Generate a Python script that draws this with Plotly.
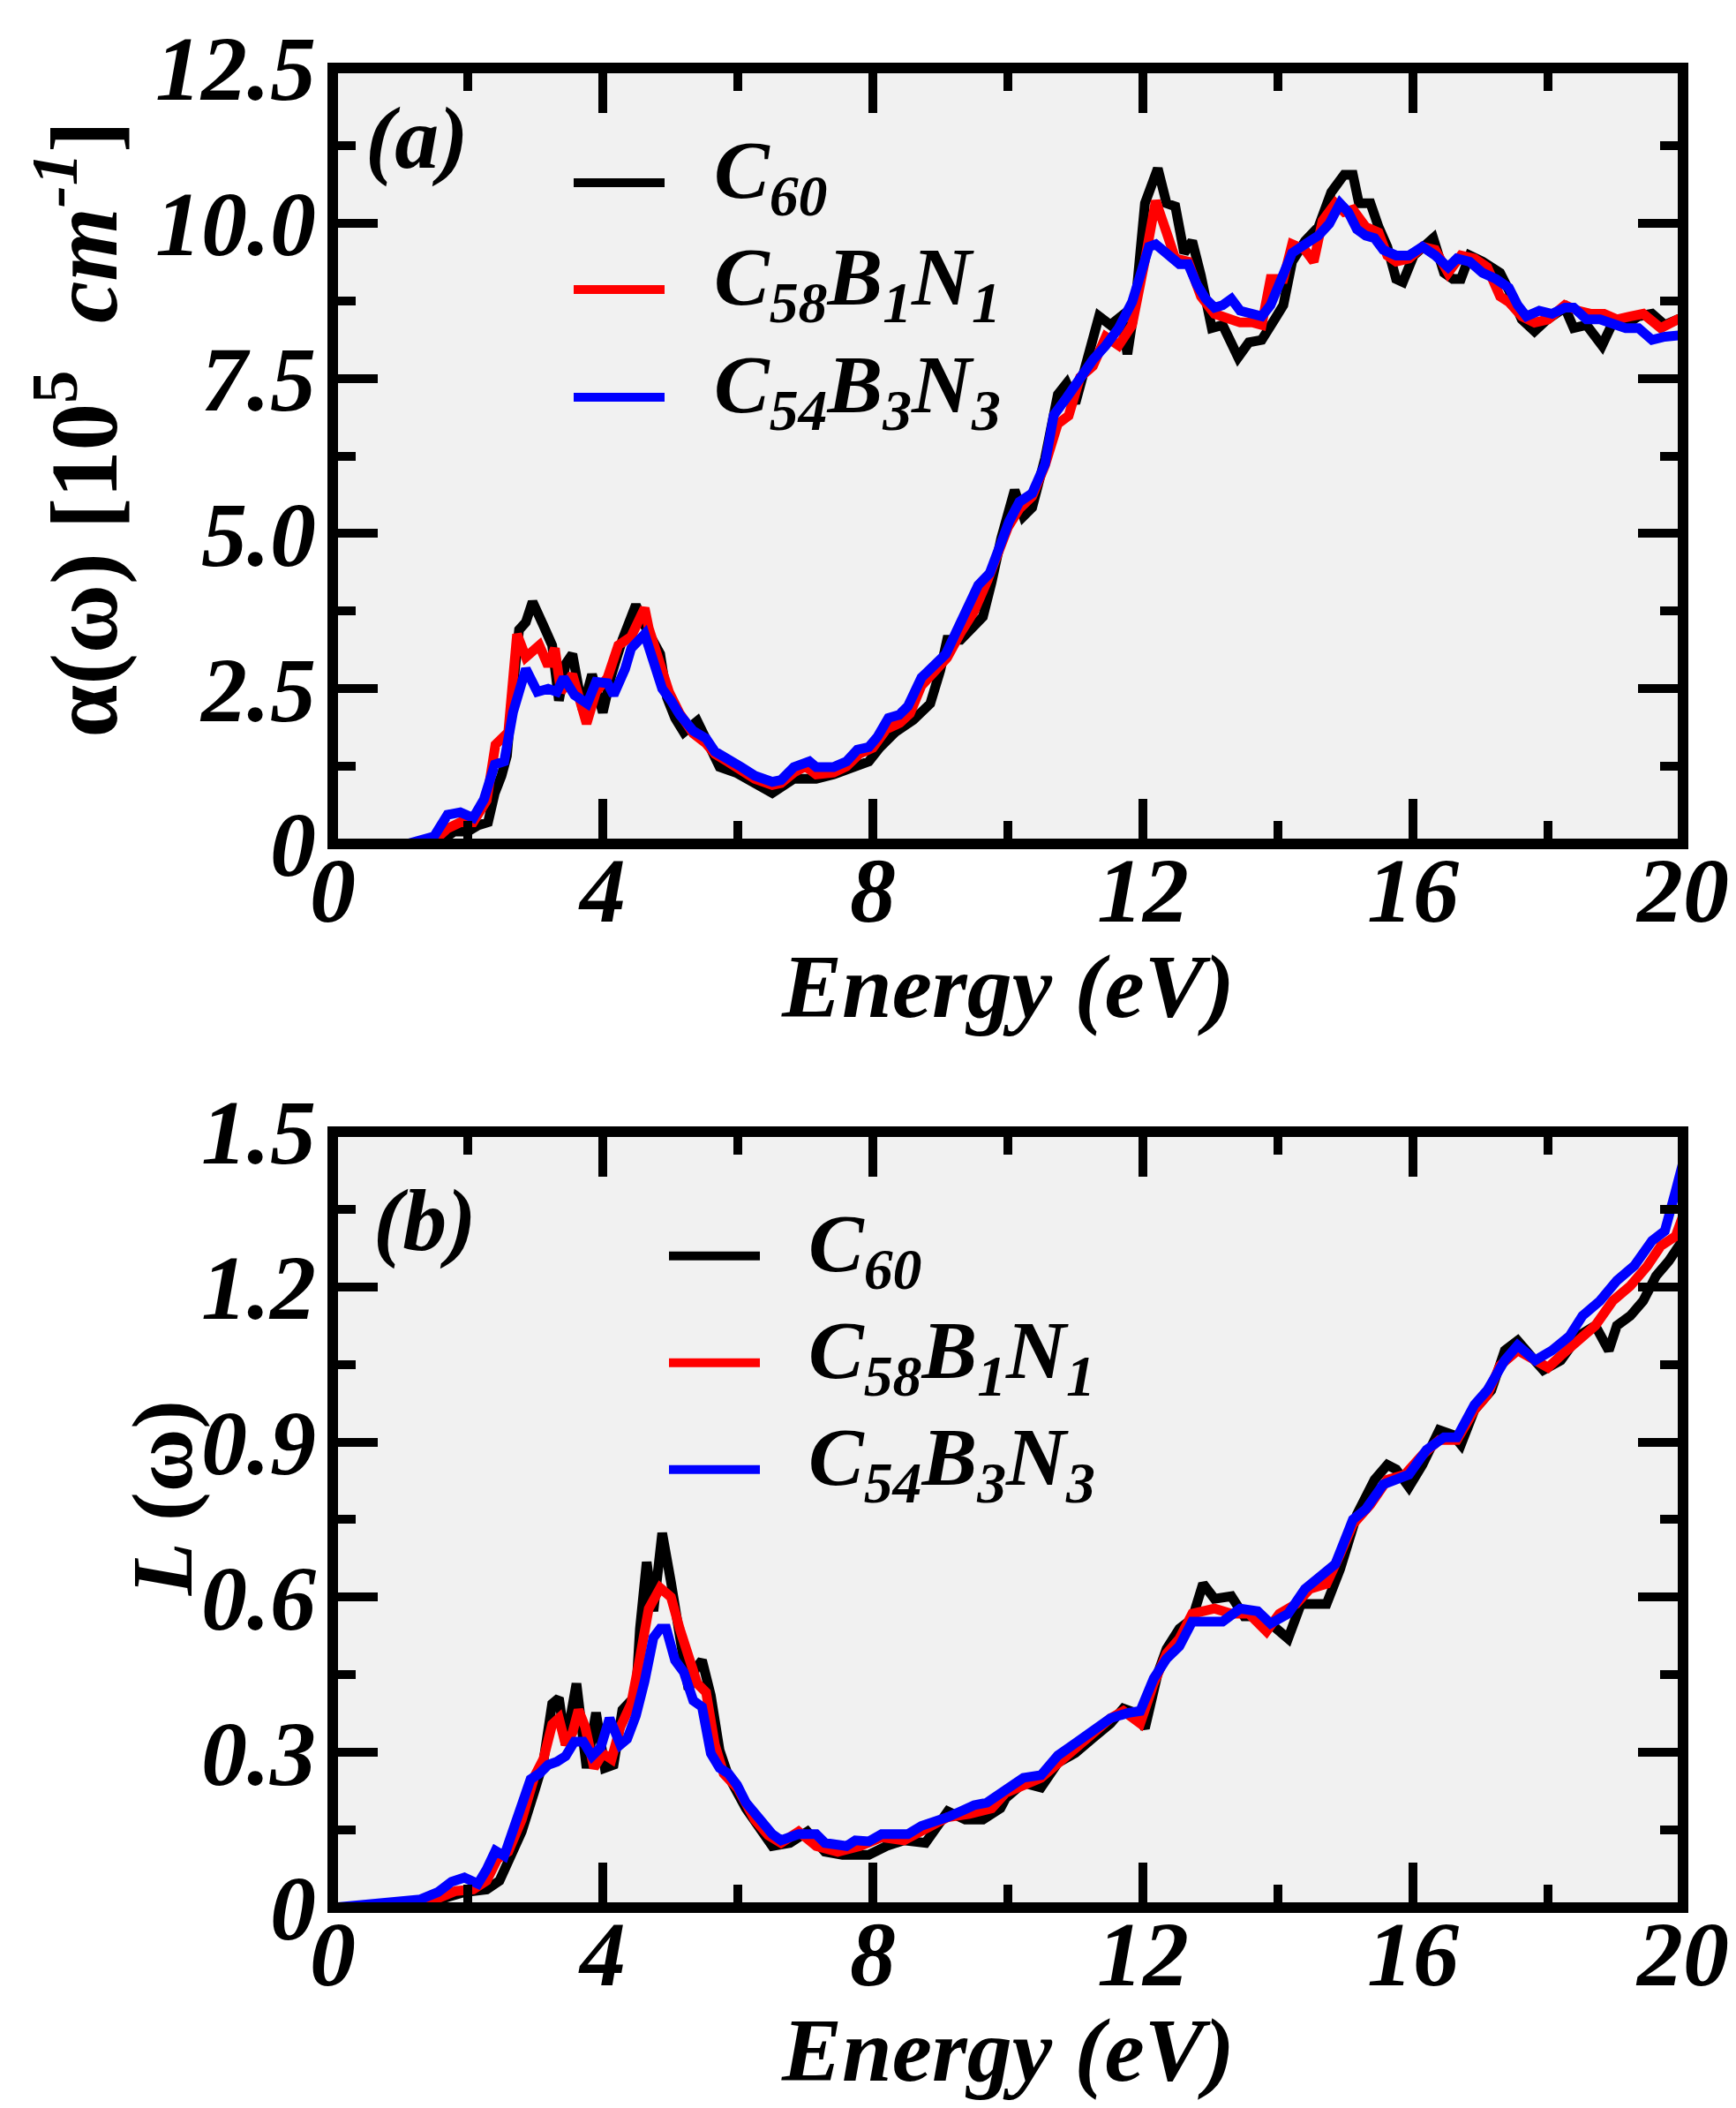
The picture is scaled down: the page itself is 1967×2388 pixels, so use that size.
import plotly.graph_objects as go

# ---------------- data ----------------
energy_ticks = [0, 4, 8, 12, 16, 20]
alpha_ticks = [0, 2.5, 5.0, 7.5, 10.0, 12.5]
alpha_ticktext = ["0", "2.5", "5.0", "7.5", "10.0", "12.5"]
loss_ticks = [0, 0.3, 0.6, 0.9, 1.2, 1.5]
loss_ticktext = ["0", "0.3", "0.6", "0.9", "1.2", "1.5"]

series_names = ["C<sub>60</sub>", "C<sub>58</sub>B<sub>1</sub>N<sub>1</sub>", "C<sub>54</sub>B<sub>3</sub>N<sub>3</sub>"]
series_colors = ["#000000", "#ff0000", "#0000ff"]

alpha_c60 = [(0,0),(1.3,0),(1.6,0.05),(1.8,0.2),(2.0,0.2),(2.15,0.3),(2.3,0.35),(2.4,0.82),(2.5,1.1),(2.58,1.42),
             (2.65,2.3),(2.76,3.45),(2.86,3.57),(2.96,3.90),(3.12,3.52),(3.25,3.2),(3.35,2.31),(3.45,2.9),(3.55,3.06),
             (3.7,2.17),(3.84,2.73),(4.0,2.12),(4.13,2.73),(4.29,3.29),(4.49,3.85),(4.62,3.52),(4.85,3.06),(4.95,2.36),
             (5.07,2.03),(5.2,1.8),(5.4,1.98),(5.53,1.70),(5.73,1.24),(5.99,1.14),(6.2,1.0),(6.51,0.82),(6.83,1.05),
             (7.16,1.05),(7.42,1.12),(7.68,1.24),(7.94,1.33),(8.1,1.55),(8.33,1.80),(8.6,2.0),(8.85,2.26),(9.0,2.8),
             (9.1,3.29),(9.3,3.29),(9.5,3.5),(9.63,3.66),(9.76,4.22),(9.9,4.92),(10.1,5.7),(10.23,5.28),(10.36,5.42),
             (10.55,6.21),(10.74,7.24),(10.87,7.42),(11.0,7.1),(11.2,7.98),(11.35,8.5),(11.52,8.36),(11.68,8.50),
             (11.77,7.89),(11.9,8.82),(12.03,10.32),(12.22,10.88),(12.35,10.32),(12.48,10.27),(12.61,9.52),(12.73,9.71),
             (12.86,9.15),(13.02,8.31),(13.18,8.36),(13.41,7.84),(13.57,8.08),(13.76,8.12),(13.95,8.45),(14.08,8.68),
             (14.21,9.38),(14.4,9.71),(14.6,9.94),(14.79,10.50),(14.98,10.78),(15.11,10.78),(15.2,10.32),(15.37,10.32),
             (15.49,9.94),(15.62,9.62),(15.75,9.10),(15.85,9.05),(16.01,9.48),(16.2,9.66),(16.3,9.76),(16.46,9.20),
             (16.59,9.10),(16.71,9.10),(16.84,9.48),(17.03,9.38),(17.29,9.20),(17.42,8.92),(17.61,8.45),(17.8,8.26),
             (17.99,8.45),(18.25,8.64),(18.38,8.31),(18.57,8.36),(18.8,8.03),(18.96,8.40),(19.15,8.36),(19.34,8.50),
             (19.54,8.54),(19.73,8.36),(19.92,8.45),(20.0,8.4)]

alpha_c58 = [(0,0),(1.2,0),(1.5,0.05),(1.7,0.25),(1.89,0.35),(2.08,0.35),(2.28,0.7),(2.41,1.6),(2.6,1.8),(2.73,3.38),
             (2.86,3.01),(3.06,3.2),(3.19,2.87),(3.29,3.15),(3.38,2.45),(3.55,2.73),(3.76,1.94),(3.9,2.45),(4.07,2.68),
             (4.23,3.2),(4.42,3.34),(4.62,3.80),(4.68,3.48),(4.81,3.06),(4.98,2.45),(5.14,2.1),(5.34,1.78),(5.53,1.62),
             (5.66,1.45),(5.86,1.32),(6.05,1.2),(6.25,1.05),(6.51,0.95),(6.64,0.98),(6.83,1.15),(7.0,1.25),(7.16,1.12),
             (7.42,1.15),(7.61,1.25),(7.8,1.45),(8.0,1.55),(8.2,1.85),(8.4,1.95),(8.55,2.1),(8.72,2.55),(8.91,2.75),
             (9.1,3.0),(9.3,3.4),(9.5,3.75),(9.7,4.25),(9.86,4.7),(10.0,5.1),(10.17,5.4),(10.36,5.6),(10.55,6.1),
             (10.74,6.77),(10.9,6.9),(11.07,7.52),(11.26,7.7),(11.45,8.17),(11.64,8.03),(11.84,8.36),(12.03,9.4),
             (12.19,10.36),(12.35,9.85),(12.48,9.43),(12.67,9.38),(12.86,8.82),(13.06,8.54),(13.25,8.45),(13.44,8.40),
             (13.63,8.40),(13.76,8.36),(13.89,9.1),(14.08,9.1),(14.21,9.66),(14.4,9.57),(14.53,9.38),(14.66,10.04),
             (14.85,10.32),(14.98,10.18),(15.11,10.22),(15.3,9.94),(15.49,9.85),(15.62,9.48),(15.75,9.38),(15.94,9.43),
             (16.14,9.62),(16.33,9.57),(16.52,9.20),(16.71,9.48),(16.91,9.43),(17.1,9.29),(17.29,8.82),(17.42,8.73),
             (17.61,8.50),(17.8,8.40),(18.0,8.45),(18.25,8.68),(18.45,8.59),(18.64,8.54),(18.83,8.54),(19.02,8.45),
             (19.22,8.50),(19.41,8.54),(19.67,8.31),(19.92,8.45),(20.0,8.45)]

alpha_c54 = [(0,0),(1.1,0),(1.5,0.12),(1.7,0.47),(1.89,0.51),(2.08,0.42),(2.24,0.72),(2.4,1.28),(2.54,1.33),(2.67,2.12),
             (2.86,2.82),(3.03,2.45),(3.19,2.50),(3.32,2.45),(3.42,2.68),(3.58,2.40),(3.77,2.26),(3.9,2.61),(4.07,2.59),
             (4.16,2.40),(4.33,2.82),(4.42,3.15),(4.62,3.38),(4.75,2.96),(4.88,2.50),(5.01,2.31),(5.14,2.08),(5.34,1.82),
             (5.53,1.70),(5.66,1.49),(5.86,1.38),(6.05,1.24),(6.25,1.10),(6.51,1.00),(6.64,1.03),(6.83,1.24),(7.06,1.33),
             (7.16,1.24),(7.42,1.24),(7.61,1.33),(7.77,1.52),(7.94,1.56),(8.07,1.73),(8.23,2.03),(8.39,2.08),(8.52,2.22),
             (8.72,2.68),(8.91,2.87),(9.08,3.06),(9.24,3.43),(9.4,3.80),(9.56,4.17),(9.73,4.36),(9.86,4.78),(10.02,5.20),
             (10.17,5.51),(10.36,5.65),(10.55,6.12),(10.68,6.91),(10.87,7.19),(11.07,7.52),(11.26,7.80),(11.45,8.03),
             (11.64,8.31),(11.84,8.73),(11.96,9.20),(12.09,9.62),(12.19,9.66),(12.29,9.57),(12.41,9.48),(12.54,9.34),
             (12.67,9.34),(12.8,9.01),(12.93,8.78),(13.06,8.64),(13.18,8.68),(13.31,8.78),(13.44,8.59),(13.57,8.54),
             (13.76,8.50),(13.89,8.68),(14.02,9.01),(14.21,9.52),(14.4,9.66),(14.6,9.80),(14.76,9.99),(14.92,10.32),
             (15.04,10.18),(15.17,9.90),(15.3,9.80),(15.43,9.76),(15.56,9.57),(15.75,9.48),(15.94,9.48),(16.14,9.62),
             (16.33,9.48),(16.52,9.29),(16.65,9.43),(16.84,9.38),(17.03,9.20),(17.23,9.10),(17.42,8.96),(17.55,8.68),
             (17.68,8.50),(17.87,8.59),(18.06,8.54),(18.25,8.64),(18.38,8.64),(18.57,8.45),(18.77,8.45),(18.96,8.40),
             (19.15,8.31),(19.34,8.31),(19.54,8.12),(19.73,8.17),(19.92,8.19),(20.0,8.2)]

loss_c60 = [(0,0),(1.3,0.005),(1.95,0.03),(2.28,0.035),(2.47,0.052),(2.6,0.086),(2.8,0.147),(2.99,0.226),(3.12,0.282),
            (3.25,0.394),(3.35,0.405),(3.45,0.315),(3.61,0.433),(3.76,0.27),(3.9,0.377),(4.03,0.27),(4.16,0.276),
            (4.29,0.382),(4.49,0.41),(4.55,0.539),(4.65,0.668),(4.75,0.573),(4.88,0.724),(5.01,0.629),(5.14,0.522),
            (5.27,0.422),(5.37,0.461),(5.47,0.478),(5.6,0.41),(5.73,0.304),(5.86,0.254),(6.12,0.192),(6.51,0.119),
            (6.77,0.125),(7.03,0.147),(7.29,0.108),(7.55,0.102),(7.94,0.102),(8.2,0.119),(8.46,0.130),(8.78,0.125),
            (9.11,0.186),(9.37,0.17),(9.63,0.17),(9.89,0.192),(9.97,0.212),(10.23,0.241),(10.49,0.232),(10.74,0.28),
            (11.0,0.299),(11.26,0.328),(11.52,0.356),(11.71,0.385),(11.9,0.376),(12.03,0.347),(12.22,0.453),(12.35,0.50),
            (12.54,0.539),(12.73,0.558),(12.89,0.626),(13.06,0.597),(13.31,0.602),(13.5,0.563),(13.7,0.563),(13.89,0.549),
            (14.15,0.52),(14.34,0.587),(14.53,0.587),(14.72,0.587),(14.92,0.654),(15.17,0.76),(15.43,0.827),(15.62,0.856),
            (15.75,0.847),(15.94,0.813),(16.14,0.856),(16.39,0.923),(16.59,0.914),(16.71,0.895),(16.91,0.962),(17.16,1.0),
            (17.36,1.077),(17.55,1.096),(17.8,1.058),(17.93,1.039),(18.19,1.058),(18.45,1.105),(18.7,1.125),(18.9,1.077),
            (19.02,1.125),(19.22,1.144),(19.41,1.173),(19.6,1.221),(19.79,1.25),(19.99,1.289)]

loss_c58 = [(0,0),(1.0,0.005),(1.56,0.018),(1.82,0.032),(2.08,0.035),(2.28,0.052),(2.44,0.094),(2.6,0.108),(2.8,0.17),
            (2.99,0.254),(3.12,0.287),(3.25,0.354),(3.35,0.366),(3.45,0.315),(3.55,0.338),(3.64,0.382),(3.74,0.349),
            (3.87,0.27),(4.0,0.298),(4.13,0.287),(4.26,0.349),(4.42,0.394),(4.55,0.483),(4.68,0.578),(4.85,0.618),
            (5.01,0.60),(5.14,0.539),(5.27,0.489),(5.40,0.433),(5.53,0.416),(5.66,0.315),(5.79,0.259),(6.0,0.23),
            (6.25,0.17),(6.45,0.14),(6.64,0.125),(6.9,0.147),(7.16,0.119),(7.48,0.108),(7.81,0.119),(8.13,0.136),
            (8.46,0.130),(8.78,0.153),(9.11,0.175),(9.43,0.181),(9.76,0.192),(9.97,0.222),(10.49,0.251),(11.0,0.308),
            (11.26,0.337),(11.52,0.366),(11.71,0.38),(11.96,0.356),(12.16,0.433),(12.35,0.491),(12.54,0.52),(12.73,0.568),
            (13.06,0.578),(13.31,0.568),(13.57,0.568),(13.83,0.534),(14.02,0.568),(14.27,0.587),(14.47,0.616),(14.72,0.626),
            (14.92,0.683),(15.11,0.741),(15.37,0.779),(15.62,0.827),(15.88,0.837),(16.14,0.875),(16.39,0.904),(16.65,0.904),
            (16.91,0.962),(17.1,0.991),(17.29,1.048),(17.55,1.077),(17.81,1.058),(18.0,1.044),(18.19,1.067),(18.45,1.096),
            (18.7,1.125),(18.96,1.173),(19.22,1.202),(19.47,1.24),(19.67,1.279),(19.89,1.298),(20.0,1.337)]

loss_c54 = [(0,0),(0.78,0.01),(1.3,0.016),(1.56,0.03),(1.76,0.05),(1.95,0.058),(2.15,0.046),(2.28,0.074),(2.41,0.11),
            (2.54,0.10),(2.67,0.147),(2.8,0.198),(2.93,0.248),(3.06,0.259),(3.19,0.276),(3.32,0.282),(3.45,0.293),
            (3.58,0.321),(3.71,0.321),(3.84,0.293),(3.97,0.31),(4.1,0.366),(4.26,0.315),(4.36,0.326),(4.49,0.371),
            (4.62,0.438),(4.75,0.522),(4.85,0.539),(4.94,0.539),(5.07,0.478),(5.2,0.455),(5.34,0.40),(5.47,0.388),
            (5.6,0.298),(5.73,0.27),(5.86,0.259),(5.99,0.237),(6.12,0.203),(6.25,0.181),(6.38,0.158),(6.51,0.142),
            (6.64,0.130),(6.77,0.136),(6.9,0.142),(7.03,0.142),(7.16,0.142),(7.29,0.125),(7.48,0.122),(7.61,0.119),
            (7.74,0.130),(7.94,0.128),(8.13,0.142),(8.33,0.142),(8.52,0.142),(8.72,0.158),(8.91,0.164),(9.11,0.175),
            (9.3,0.186),(9.5,0.198),(9.69,0.203),(9.82,0.214),(10.02,0.231),(10.23,0.251),(10.49,0.256),(10.74,0.294),
            (11.0,0.318),(11.26,0.342),(11.52,0.366),(11.77,0.376),(11.96,0.38),(12.16,0.443),(12.35,0.481),(12.54,0.505),
            (12.73,0.553),(12.93,0.553),(13.18,0.553),(13.44,0.578),(13.7,0.573),(13.89,0.549),(14.15,0.568),(14.4,0.616),
            (14.66,0.645),(14.85,0.664),(15.11,0.75),(15.3,0.77),(15.56,0.818),(15.75,0.827),(15.94,0.837),(16.2,0.885),
            (16.46,0.909),(16.65,0.909),(16.91,0.972),(17.1,1.0),(17.36,1.058),(17.55,1.087),(17.81,1.058),(18.06,1.077),
            (18.32,1.105),(18.51,1.144),(18.77,1.173),(19.02,1.212),(19.28,1.241),(19.54,1.289),(19.73,1.308),
            (19.89,1.385),(20.0,1.44)]

# ---------------- layout geometry (screen pixels of the 1967x2388 window) ----------------
W, H = 1967, 2388
OFF = 8  # default margin of the html body
L_PX, R_PX, T_PX, B_PX = 377, 1907, 44, 2161   # frame-line centres
PW, PH = R_PX - L_PX, B_PX - T_PX


def px(x):
    return (x - L_PX) / PW


def py(y):
    return 1 - (y - T_PX) / PH


top_dom = [py(937), 1.0]
bot_dom = [0.0, py(1268)]

FONT = "Liberation Serif, Times New Roman, Times, serif"
tickfont = dict(family=FONT, size=104, color="black", weight="bold", style="italic")

fig = go.Figure()
for data, name, col in zip([alpha_c60, alpha_c58, alpha_c54], series_names, series_colors):
    fig.add_trace(go.Scatter(x=[p[0] for p in data], y=[p[1] for p in data], mode="lines", name=name,
                             line=dict(color=col, width=11), xaxis="x", yaxis="y", showlegend=False))
for data, name, col in zip([loss_c60, loss_c58, loss_c54], series_names, series_colors):
    fig.add_trace(go.Scatter(x=[p[0] for p in data], y=[p[1] for p in data], mode="lines", name=name,
                             line=dict(color=col, width=11), xaxis="x2", yaxis="y2", showlegend=False))

common_axis = dict(showline=False, mirror="allticks", ticks="inside",
                   ticklen=51, tickwidth=10, tickcolor="black", showgrid=False, zeroline=False,
                   tickfont=tickfont)

xax = dict(common_axis, range=[0, 20], tickmode="array", tickvals=energy_ticks,
           ticktext=[str(v) for v in energy_ticks], ticklabelstandoff=-17,
           minor=dict(tickmode="array", tickvals=[2, 6, 10, 14, 18], ticklen=26, tickwidth=10,
                      tickcolor="black", ticks="inside", showgrid=False))

fig.update_layout(
    width=W, height=H,
    margin=dict(l=L_PX - OFF, r=W - (R_PX - OFF), t=T_PX - OFF, b=H - (B_PX - OFF)),
    paper_bgcolor="white", plot_bgcolor="#f1f1f1",
    showlegend=False,
    xaxis=dict(xax, domain=[0, 1], anchor="y"),
    yaxis=dict(common_axis, domain=top_dom, anchor="x", range=[0, 12.5], tickmode="array",
               tickvals=alpha_ticks, ticktext=alpha_ticktext, ticklabelstandoff=18,
               minor=dict(tickmode="array", tickvals=[1.25, 3.75, 6.25, 8.75, 11.25], ticklen=26,
                          tickwidth=10, tickcolor="black", ticks="inside", showgrid=False)),
    xaxis2=dict(xax, domain=[0, 1], anchor="y2"),
    yaxis2=dict(common_axis, domain=bot_dom, anchor="x2", range=[0, 1.5], tickmode="array",
                tickvals=loss_ticks, ticktext=loss_ticktext, ticklabelstandoff=18,
                minor=dict(tickmode="array", tickvals=[0.15, 0.45, 0.75, 1.05, 1.35], ticklen=26,
                           tickwidth=10, tickcolor="black", ticks="inside", showgrid=False)),
)

ann = []
shapes = []
bold_it = dict(family=FONT, color="black", weight="bold", style="italic")

# frames (centred on the panel edges, drawn above the curves)
for dom in (top_dom, bot_dom):
    shapes.append(dict(type="rect", xref="paper", yref="paper", x0=0, x1=1, y0=dom[0], y1=dom[1],
                       line=dict(color="black", width=12), layer="above"))

# axis titles
ann.append(dict(text="Energy (eV)", x=0.5, y=py(1101), xref="paper", yref="paper", showarrow=False,
                xanchor="center", yanchor="middle", font=dict(bold_it, size=102)))
ann.append(dict(text="Energy (eV)", x=0.5, y=py(1101 + 1224), xref="paper", yref="paper", showarrow=False,
                xanchor="center", yanchor="middle", font=dict(bold_it, size=102)))
ann.append(dict(text="α(ω) [10<sup>5</sup>  <i>cm<sup>-1</sup></i>]", x=px(88), y=py(460), xref="paper",
                yref="paper", showarrow=False, textangle=-90, xanchor="center", yanchor="middle",
                font=dict(family=FONT, color="black", weight="bold", size=107)))
ann.append(dict(text="<i>L</i> (ω)", x=px(184), y=py(1690), xref="paper", yref="paper", showarrow=False,
                textangle=-90, xanchor="center", yanchor="middle",
                font=dict(family=FONT, color="black", weight="bold", size=98)))
ann.append(dict(text="(a)", x=px(472), y=py(125), xref="paper", yref="paper", showarrow=False,
                xanchor="center", yanchor="middle", font=dict(bold_it, size=100)))
ann.append(dict(text="(b)", x=px(481), y=py(1370), xref="paper", yref="paper", showarrow=False,
                xanchor="center", yanchor="middle", font=dict(bold_it, size=100)))

# legends drawn by hand (long line keys as in the original)
legend_rows = [
    (650, 753, 807, [176, 299, 423]),
    (758, 861, 914, [1411, 1534, 1657]),
]
for x0, x1, xt, ys in legend_rows:
    for name, col, yline in zip(series_names, series_colors, ys):
        shapes.append(dict(type="line", xref="paper", yref="paper", x0=px(x0), x1=px(x1),
                           y0=py(yline), y1=py(yline), line=dict(color=col, width=10)))
        ann.append(dict(text=name, x=px(xt), y=py(yline - 8), xref="paper", yref="paper", showarrow=False,
                        xanchor="left", yanchor="middle", font=dict(bold_it, size=94)))

fig.update_layout(annotations=ann, shapes=shapes)
fig.write_html("out.html")
